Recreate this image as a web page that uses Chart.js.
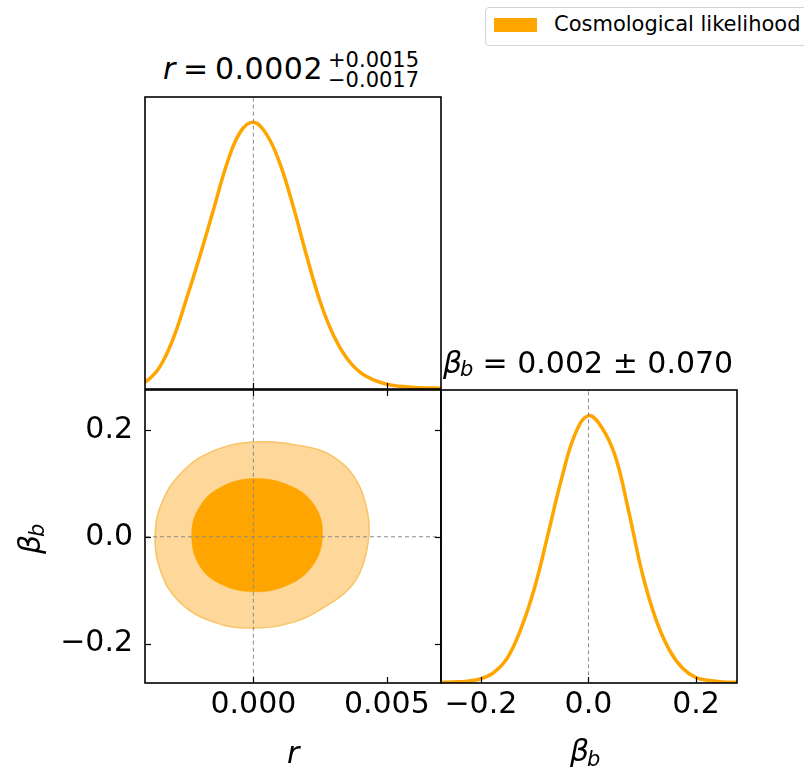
<!DOCTYPE html>
<html>
<head>
<meta charset="utf-8">
<script src="https://cdn.jsdelivr.net/npm/chart.js@4.4.0/dist/chart.umd.min.js"></script>
<style>
  html, body { margin: 0; padding: 0; background: #fff; }
  body { width: 804px; height: 769px; position: relative; overflow: hidden; font-family: "DejaVu Sans", sans-serif; color: #000; }
  canvas { position: absolute; }
  .t { position: absolute; white-space: pre; }
  .t30 { font-size: 30px; line-height: 30px; }
  .t21 { font-size: 21px; line-height: 21px; }
  .it { font-style: italic; }
  #legend { position: absolute; left: 485px; top: 7px; width: 340px; height: 37px; border: 1px solid #d4d4d4; border-radius: 4px; background: #fff; }
  #legend .patch { position: absolute; left: 8px; top: 10px; width: 43px; height: 14px; background: #FFA500; }
  #legend .lab { position: absolute; left: 68px; top: 6px; font-size: 21px; line-height: 21px; white-space: pre; }
</style>
</head>
<body>

<canvas id="c1" width="306" height="302" style="left:140px; top:92px;"></canvas>
<canvas id="c2" width="450" height="389" style="left:0px; top:380px;"></canvas>
<canvas id="c3" width="374" height="389" style="left:430px; top:380px;"></canvas>

<!-- panel titles -->
<span class="t t30 it" style="left:163px; top:54px;">r</span>
<span class="t t30" style="left:183px; top:54px;">=</span>
<span class="t t30" style="left:215px; top:54px; letter-spacing:0.5px;">0.0002</span>
<span class="t t21" style="left:328px; top:50px;">+0.0015</span>
<span class="t t21" style="left:328px; top:70px;">&#8722;0.0017</span>

<span class="t t30 it" style="left:443px; top:348px;">&#946;</span>
<span class="t t21 it" style="left:460px; top:359px;">b</span>
<span class="t t30" style="left:473px; top:348px;"> = 0.002 &#177; 0.070</span>

<!-- axis labels -->
<span class="t t30 it" style="left:287px; top:738px;">r</span>
<span class="t t30 it" style="left:570px; top:736px;">&#946;</span>
<span class="t t21 it" style="left:587px; top:749px;">b</span>
<div style="position:absolute; left:15px; top:554px; width:40px; height:34px; transform-origin:0 0; transform:rotate(-90deg);">
  <span class="t t30 it" style="left:0px; top:0px;">&#946;</span>
  <span class="t t21 it" style="left:17px; top:12px;">b</span>
</div>

<div id="legend"><div class="patch"></div><div class="lab">Cosmological likelihood</div></div>

<script>
// 1D marginal of r (normalised to peak)
const rGrid = [-0.0045, -0.0040, -0.0035, -0.0030, -0.0025, -0.0020, -0.0015, -0.0010, -0.0005, 0.0000,
               0.0005, 0.0010, 0.0015, 0.0020, 0.0025, 0.0030, 0.0035, 0.0040, 0.0045, 0.0050,
               0.0055, 0.0060, 0.0065, 0.0070, 0.0075];
const rDensity = [0.010, 0.030, 0.084, 0.190, 0.340, 0.500, 0.670, 0.842, 0.962, 1.000,
                  0.954, 0.844, 0.682, 0.498, 0.328, 0.202, 0.115, 0.062, 0.034, 0.018,
                  0.010, 0.006, 0.004, 0.003, 0.002];

// 1D marginal of beta_b
const betaGrid = [-0.300, -0.275, -0.250, -0.225, -0.200, -0.175, -0.150, -0.125, -0.100, -0.075, -0.050, -0.025,
                  0.000, 0.025, 0.050, 0.075, 0.100, 0.125, 0.150, 0.175, 0.200, 0.225, 0.250, 0.275, 0.300];
const betaDensity = [0.002, 0.003, 0.004, 0.007, 0.016, 0.041, 0.096, 0.205, 0.357, 0.558, 0.764, 0.930,
                     1.000, 0.955, 0.847, 0.640, 0.410, 0.240, 0.125, 0.055, 0.020, 0.009, 0.004, 0.003, 0.002];

// 2D contours (95% outer, 68% inner), closed loops
const outerR    = [0.00433, 0.00406, 0.00356, 0.00269, 0.00157, 0.00000, -0.00154, -0.00279, -0.00347,
                   -0.00368, -0.00341, -0.00266, -0.00154, 0.00000, 0.00194, 0.00306, 0.00381, 0.00424];
const outerBeta = [0.004, -0.059, -0.099, -0.131, -0.159, -0.171, -0.159, -0.121, -0.065,
                   0.004, 0.066, 0.122, 0.160, 0.1775, 0.169, 0.148, 0.110, 0.054];
const innerR    = [0.00259, 0.00225, 0.00132, 0.00000, -0.00129, -0.00204, -0.00231, -0.00204, -0.00129,
                   0.00000, 0.00144, 0.00231];
const innerBeta = [0.004, -0.052, -0.090, -0.103, -0.087, -0.052, 0.004, 0.054, 0.091,
                   0.109, 0.094, 0.057];

// truth markers
const rTruth = [0];
const betaTruth = [0];

// axes
const rRange = [-0.00406, 0.00703];
const betaXRange = [-0.274, 0.276];
const betaYRange = [-0.274, 0.275];
const rTicks = [0, 0.005];
const rTickLabels = ['0.000', '0.005'];
const betaTicks = [-0.2, 0, 0.2];
const betaTickLabels = ['\u22120.2', '0.0', '0.2'];

const ORANGE = '#FFA500';
const LIGHT = '#FDD89A';
const LIGHT_EDGE = '#F8C466';
const DASH = '#8a8a8a';
const FONT = { family: 'DejaVu Sans', size: 30 };

function xy(xs, ys) {
  return xs.map((x, i) => ({ x: x, y: ys[i] }));
}

function vline(v) {
  return { data: [{ x: v, y: -10 }, { x: v, y: 10 }], borderColor: DASH, borderWidth: 1,
           borderDash: [4, 3], pointRadius: 0, fill: false, tension: 0 };
}
function hline(v) {
  return { data: [{ x: -10, y: v }, { x: 10, y: v }], borderColor: DASH, borderWidth: 1,
           borderDash: [4, 3], pointRadius: 0, fill: false, tension: 0 };
}

// make contour lines smooth closed loops (same trick the radar chart uses)
const closedLoop = {
  id: 'closedLoop',
  afterDatasetsUpdate(chart) {
    chart.data.datasets.forEach((ds, i) => {
      if (!ds.closed) return;
      const line = chart.getDatasetMeta(i).dataset;
      line._loop = true;
      line._fullLoop = true;
      line._pointsUpdated = false;
      delete line._segments;
      line._path = undefined;
    });
  }
};

// frame + inward ticks
const frameTicks = {
  id: 'frameTicks',
  afterDraw(chart, args, opts) {
    const { ctx, chartArea: a, scales } = chart;
    const len = 6;
    ctx.save();
    ctx.strokeStyle = '#000';
    ctx.lineWidth = 1.2;
    (opts.sides || []).forEach(side => {
      const horiz = side === 'top' || side === 'bottom';
      const sc = horiz ? scales.x : scales.y;
      const vals = horiz ? opts.xTicks : opts.yTicks;
      vals.forEach(v => {
        const p = Math.round(sc.getPixelForValue(v)) + 0.5;
        ctx.beginPath();
        if (side === 'bottom') { ctx.moveTo(p, a.bottom); ctx.lineTo(p, a.bottom - len); }
        if (side === 'top') { ctx.moveTo(p, a.top); ctx.lineTo(p, a.top + len); }
        if (side === 'left') { ctx.moveTo(a.left, p); ctx.lineTo(a.left + len, p); }
        if (side === 'right') { ctx.moveTo(a.right, p); ctx.lineTo(a.right - len, p); }
        ctx.stroke();
      });
    });
    ctx.lineWidth = 1.6;
    ctx.strokeRect(a.left, a.top, a.right - a.left, a.bottom - a.top);
    ctx.restore();
  }
};

const baseOpts = {
  responsive: false,
  animation: false,
  events: [],
  plugins: { legend: { display: false }, tooltip: { enabled: false } },
  elements: { point: { radius: 0 } }
};

function labelledX(range, ticks, labels) {
  return {
    type: 'linear', min: range[0], max: range[1],
    grid: { display: false, drawTicks: false }, border: { display: false },
    afterBuildTicks: s => { s.ticks = ticks.map(v => ({ value: v })); },
    afterFit: s => { s.height = 86; s.paddingLeft = 0; s.paddingRight = 0; },
    ticks: { padding: 4, font: FONT, color: '#000', maxRotation: 0, autoSkip: false,
             callback: (v, i) => labels[i] }
  };
}

// top-left: r marginal
new Chart(document.getElementById('c1'), {
  type: 'line',
  data: {
    datasets: [
      vline(rTruth[0]),
      { data: xy(rGrid, rDensity), borderColor: ORANGE, borderWidth: 3.5, fill: false,
        tension: 0.4, pointRadius: 0 }
    ]
  },
  options: Object.assign({}, baseOpts, {
    layout: { padding: 5 },
    scales: {
      x: { type: 'linear', display: false, min: rRange[0], max: rRange[1] },
      y: { type: 'linear', display: false, min: 0, max: 1.095 }
    },
    plugins: Object.assign({}, baseOpts.plugins, {
      frameTicks: { sides: ['bottom'], xTicks: rTicks, yTicks: [] }
    })
  }),
  plugins: [frameTicks]
});

// bottom-left: 2D contours
new Chart(document.getElementById('c2'), {
  type: 'line',
  data: {
    datasets: [
      vline(rTruth[0]),
      hline(betaTruth[0]),
      { data: xy(innerR, innerBeta), closed: true, borderColor: ORANGE, backgroundColor: ORANGE,
        borderWidth: 0.5, fill: 'shape', tension: 0.4, pointRadius: 0 },
      { data: xy(outerR, outerBeta), closed: true, borderColor: LIGHT_EDGE, backgroundColor: LIGHT,
        borderWidth: 1.5, fill: 'shape', tension: 0.4, pointRadius: 0 }
    ]
  },
  options: Object.assign({}, baseOpts, {
    layout: { padding: { top: 10, right: 9, left: 0, bottom: 0 } },
    scales: {
      x: labelledX(rRange, rTicks, rTickLabels),
      y: {
        type: 'linear', min: betaYRange[0], max: betaYRange[1],
        grid: { display: false, drawTicks: false }, border: { display: false },
        afterBuildTicks: s => { s.ticks = betaTicks.map(v => ({ value: v })); },
        afterFit: s => { s.width = 145; s.paddingTop = 0; s.paddingBottom = 0; },
        ticks: { padding: 12, font: FONT, color: '#000', autoSkip: false,
                 callback: (v, i) => betaTickLabels[i] }
      }
    },
    plugins: Object.assign({}, baseOpts.plugins, {
      frameTicks: { sides: ['bottom', 'top', 'left', 'right'], xTicks: rTicks, yTicks: betaTicks }
    })
  }),
  plugins: [closedLoop, frameTicks]
});

// bottom-right: beta_b marginal
new Chart(document.getElementById('c3'), {
  type: 'line',
  data: {
    datasets: [
      vline(betaTruth[0]),
      { data: xy(betaGrid, betaDensity), borderColor: ORANGE, borderWidth: 3.5, fill: false,
        tension: 0.4, pointRadius: 0 }
    ]
  },
  options: Object.assign({}, baseOpts, {
    layout: { padding: { top: 10, right: 67, left: 11, bottom: 0 } },
    scales: {
      x: labelledX(betaXRange, betaTicks, betaTickLabels),
      y: { type: 'linear', display: false, min: 0, max: 1.096 }
    },
    plugins: Object.assign({}, baseOpts.plugins, {
      frameTicks: { sides: ['bottom'], xTicks: betaTicks, yTicks: [] }
    })
  }),
  plugins: [frameTicks]
});
</script>
</body>
</html>
